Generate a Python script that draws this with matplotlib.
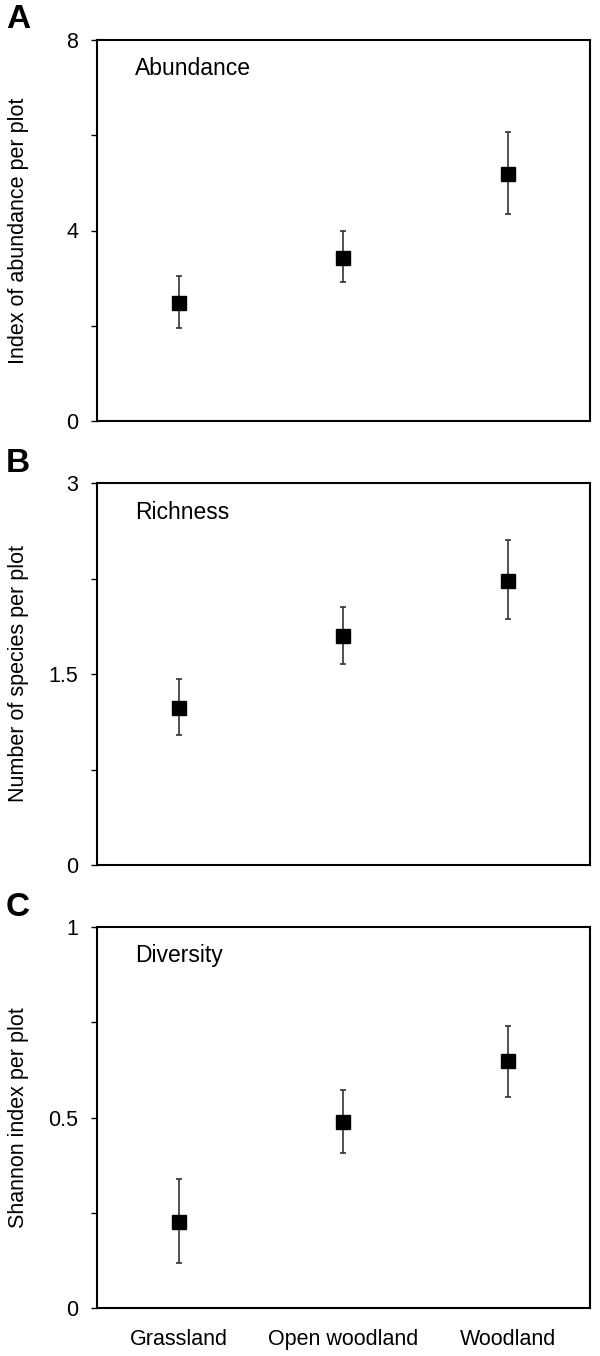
import matplotlib
matplotlib.use("Agg")
import matplotlib.pyplot as plt
from matplotlib.ticker import FixedLocator, FixedFormatter

plt.rcParams['font.family'] = ['Liberation Sans', 'DejaVu Sans']

habitats = ["Grassland", "Open woodland", "Woodland"]

abund_mean = [2.48, 3.43, 5.19]
abund_upper = [3.05, 3.98, 6.06]
abund_lower = [1.95, 2.92, 4.34]

rich_mean = [1.23, 1.80, 2.23]
rich_upper = [1.46, 2.03, 2.55]
rich_lower = [1.02, 1.58, 1.93]

div_mean = [0.226, 0.487, 0.647]
div_upper = [0.338, 0.573, 0.741]
div_lower = [0.118, 0.406, 0.555]

panel_letters = ["A", "B", "C"]
panel_titles = ["Abundance", "Richness", "Diversity"]
ylabels = ["Index of abundance per plot", "Number of species per plot", "Shannon index per plot"]
ymax = [8, 3, 1]
major_ticks = [[0, 4, 8], [0, 1.5, 3], [0, 0.5, 1]]
major_labels = [["0", "4", "8"], ["0", "1.5", "3"], ["0", "0.5", "1"]]
minor_ticks = [[2, 6], [0.75, 2.25], [0.25, 0.75]]

W, H = 600, 1356
fig = plt.figure(figsize=(W / 100, H / 100), dpi=100)

left_px, right_px = 97, 590
tops = [40, 483, 927]
bottoms = [421, 865, 1308]

series = [(abund_mean, abund_lower, abund_upper),
          (rich_mean, rich_lower, rich_upper),
          (div_mean, div_lower, div_upper)]

xs = list(range(1, len(habitats) + 1))
fs = 15.5

for i in range(3):
    ax = fig.add_axes([left_px / W, 1 - bottoms[i] / H,
                       (right_px - left_px) / W, (bottoms[i] - tops[i]) / H])
    m, lo, up = series[i]
    yerr = [[mm - l for mm, l in zip(m, lo)], [u - mm for mm, u in zip(m, up)]]
    ax.errorbar(xs, m, yerr=yerr, fmt='none', ecolor='#333333', elinewidth=1.2,
                capsize=2, capthick=1.2, zorder=2)
    ax.plot(xs, m, linestyle='none', marker='s', markersize=9.5,
            color='black', zorder=3)
    ax.set_xlim(0.5, 3.5)
    ax.set_ylim(0, ymax[i])
    ax.yaxis.set_major_locator(FixedLocator(major_ticks[i]))
    ax.yaxis.set_major_formatter(FixedFormatter(major_labels[i]))
    ax.yaxis.set_minor_locator(FixedLocator(minor_ticks[i]))
    ax.tick_params(axis='y', which='both', direction='out', length=4.5, width=1.0,
                   labelsize=fs, pad=9, color='black')
    if i == 2:
        ax.set_xticks(xs)
        ax.set_xticklabels(habitats)
        ax.tick_params(axis='x', length=0, labelsize=fs, pad=15)
    else:
        ax.set_xticks([])
    for s in ax.spines.values():
        s.set_linewidth(1.5)
        s.set_color('black')
    ax.set_ylabel(ylabels[i], fontsize=fs)
    ax.yaxis.set_label_coords(-0.138, 0.5)
    ax.text(0.077, 0.924, panel_titles[i], transform=ax.transAxes,
            fontsize=16.5, ha='left', va='center')
    fig.text(18 / W, 1 - (tops[i] - 20) / H, panel_letters[i], fontsize=24,
             fontweight='bold', ha='center', va='center')

fig.savefig("out.png", dpi=100)
